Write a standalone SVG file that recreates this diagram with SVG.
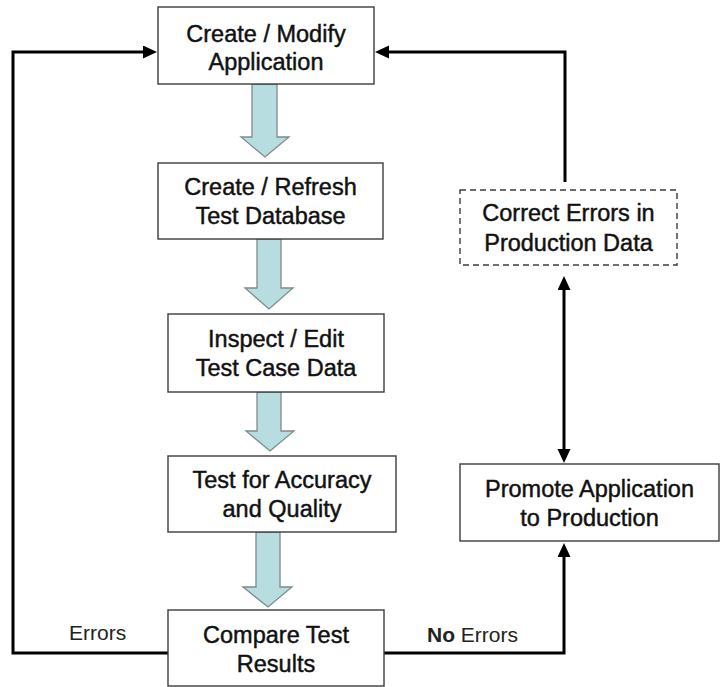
<svg xmlns="http://www.w3.org/2000/svg" width="720" height="687" viewBox="0 0 720 687">
<style>
.box{fill:#fff;stroke:#3c3c3c;stroke-width:1.4}
.dash{fill:#fff;stroke:#3c3c3c;stroke-width:1.4;stroke-dasharray:6,4}
.blk{fill:#b7dde1;stroke:#7d8a8c;stroke-width:1.3}
.t{font-family:"Liberation Sans",Arial,sans-serif;font-size:23.5px;fill:#111;stroke:#111;stroke-width:0.45;text-anchor:middle}
.lbl{font-family:"Liberation Sans",Arial,sans-serif;font-size:21px;fill:#222}
.con{fill:none;stroke:#000;stroke-width:3}
</style>
<defs>
<marker id="ah" markerUnits="userSpaceOnUse" markerWidth="15" markerHeight="14" refX="4" refY="6.5" orient="auto-start-reverse">
<path d="M0,0 L14,6.5 L0,13 z" fill="#000"/>
</marker>
</defs>
<g id="connectors">
<path class="blk" d="M252,84 H277 V137 H289 L265,157 L241,137 H252 Z"/>
<path class="blk" d="M257,239 H281 V288 H293 L269,309 L245,288 H257 Z"/>
<path class="blk" d="M257,392 H281 V431 H294 L270,451 L246,431 H257 Z"/>
<path class="blk" d="M256,532 H280 V587 H292 L268,607 L243,587 H256 Z"/>
<path class="con" d="M168,653 H13 V52 H147" marker-end="url(#ah)"/>
<path class="con" d="M565,182 V52 H385" marker-end="url(#ah)"/>
<path class="con" d="M564,286 V453" marker-start="url(#ah)" marker-end="url(#ah)"/>
<path class="con" d="M384,653 H564 V553" marker-end="url(#ah)"/>
<text class="lbl" x="69" y="640">Errors</text>
<text class="lbl" x="427" y="642"><tspan font-weight="bold">No</tspan> Errors</text>
</g>
<g id="n1">
<rect class="box" x="158" y="7" width="216" height="77"/>
<text class="t" x="266" y="42">Create / Modify</text>
<text class="t" x="266" y="70">Application</text>
</g>
<g id="n2">
<rect class="box" x="158" y="163" width="225" height="76"/>
<text class="t" x="270.5" y="195">Create / Refresh</text>
<text class="t" x="270.5" y="224">Test Database</text>
</g>
<g id="n3">
<rect class="box" x="168" y="314" width="216" height="78"/>
<text class="t" x="276" y="347">Inspect / Edit</text>
<text class="t" x="276" y="376">Test Case Data</text>
</g>
<g id="n4">
<rect class="box" x="168" y="456" width="228" height="76"/>
<text class="t" x="282" y="488">Test for Accuracy</text>
<text class="t" x="282" y="517">and Quality</text>
</g>
<g id="n5">
<rect class="box" x="168" y="610" width="216" height="76"/>
<text class="t" x="276" y="643">Compare Test</text>
<text class="t" x="276" y="672">Results</text>
</g>
<g id="n6">
<rect class="dash" x="460" y="190" width="217" height="75"/>
<text class="t" x="568.5" y="221">Correct Errors in</text>
<text class="t" x="568.5" y="251">Production Data</text>
</g>
<g id="n7">
<rect class="box" x="460" y="464" width="259" height="77"/>
<text class="t" x="589.5" y="497">Promote Application</text>
<text class="t" x="589.5" y="526">to Production</text>
</g>
</svg>
